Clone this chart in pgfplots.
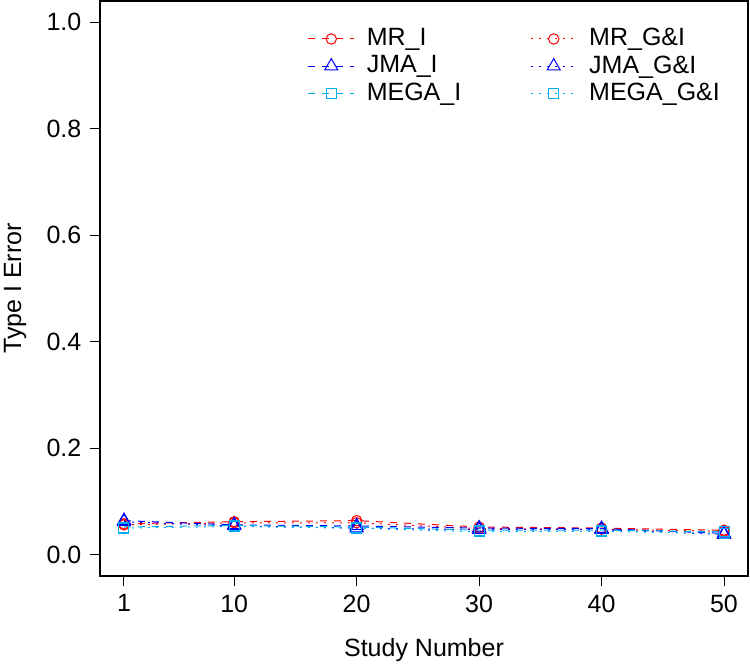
\documentclass[border=0pt]{standalone}
\usepackage{fontspec}
\setmainfont{Liberation Sans}
\usepackage{pgfplots}
\usepackage{pgfplotstable}
\pgfplotsset{compat=1.18}

% Type I error by number of studies
\pgfplotstableread{
x   mrI   jmaI  megaI mrGI  jmaGI megaGI
1   0.058 0.064 0.052 0.056 0.062 0.050
10  0.062 0.056 0.055 0.060 0.054 0.053
20  0.064 0.054 0.052 0.060 0.050 0.050
30  0.052 0.050 0.046 0.049 0.047 0.043
40  0.050 0.049 0.046 0.048 0.047 0.044
50  0.046 0.040 0.043 0.044 0.038 0.040
}\errdata

\begin{document}
\fontsize{12.5}{14}\selectfont
\begin{tikzpicture}
\begin{axis}[
    at={(0,0)}, anchor=south west,
    scale only axis,
    width=324pt, height=287.5pt,
    xmin=-0.96, xmax=51.96,
    ymin=-0.04, ymax=1.04,
    xtick={1,10,20,30,40,50},
    ytick={0,0.2,0.4,0.6,0.8,1},
    yticklabels={0.0,0.2,0.4,0.6,0.8,1.0},
    tick pos=left,
    tick align=outside,
    major tick length=5pt,
    tick style={black, line width=0.5pt},
    axis line style={line width=0.6pt},
    /pgf/number format/assume math mode=true,
    xlabel={Study Number},
    ylabel={Type I Error},
    xlabel style={at={(axis description cs:0.5,-0.1287)}, anchor=center},
    ylabel style={at={(axis description cs:-0.131,0.5)}, anchor=center},
    legend columns=2,
    legend cell align=left,
    legend style={draw=none, fill=none, inner sep=0pt,
        at={(axis description cs:0.32,0.960)}, anchor=north west,
        row sep=-1pt,
        /tikz/every odd column/.append style={column sep=4pt},
        /tikz/every even column/.append style={column sep=32.5pt}},
    legend image code/.code={
        \draw[mark repeat=2,mark phase=2,#1]
            plot coordinates {(0pt,0pt) (11.5pt,0pt) (23pt,0pt)};},
    every axis plot/.append style={line width=0.5pt},
]
\addplot[red, dash pattern=on 3.5pt off 3.5pt, mark=o, mark size=2.6pt, mark options={solid}]
    table[x=x, y=mrI] {\errdata};
\addlegendentry{MR\_I}
\addplot[red, dash pattern=on 1pt off 3pt, mark=o, mark size=2.6pt, mark options={solid}]
    table[x=x, y=mrGI] {\errdata};
\addlegendentry{MR\_G\&I}
\addplot[blue, dash pattern=on 3.5pt off 3.5pt, mark=triangle, mark size=3.8pt, mark options={solid}]
    table[x=x, y=jmaI] {\errdata};
\addlegendentry{JMA\_I}
\addplot[blue, dash pattern=on 1pt off 3pt, mark=triangle, mark size=3.8pt, mark options={solid}]
    table[x=x, y=jmaGI] {\errdata};
\addlegendentry{JMA\_G\&I}
\addplot[cyan, dash pattern=on 3.5pt off 3.5pt, mark=square, mark size=2.5pt, mark options={solid}]
    table[x=x, y=megaI] {\errdata};
\addlegendentry{MEGA\_I}
\addplot[cyan, dash pattern=on 1pt off 3pt, mark=square, mark size=2.5pt, mark options={solid}]
    table[x=x, y=megaGI] {\errdata};
\addlegendentry{MEGA\_G\&I}
\end{axis}
\pgfresetboundingbox
\path[use as bounding box] (-50pt,-45.5pt) rectangle (325pt,288pt);
\end{tikzpicture}
\end{document}
